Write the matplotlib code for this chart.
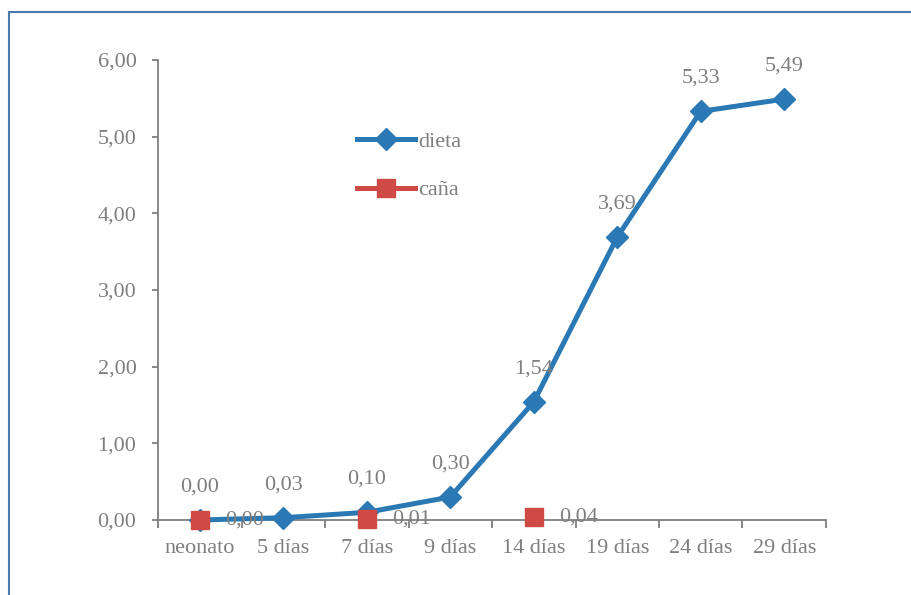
import numpy as np
import matplotlib.pyplot as plt
from matplotlib.patches import Rectangle

categorias = ["neonato", "5 días", "7 días", "9 días", "14 días", "19 días", "24 días", "29 días"]
dieta = [0.00, 0.03, 0.10, 0.30, 1.54, 3.69, 5.33, 5.49]
cana = [0.00, np.nan, 0.01, np.nan, 0.04, np.nan, np.nan, np.nan]

azul = "#2a78b4"
rojo = "#d04a45"
gris = "#7f7f7f"

plt.rcParams['font.family'] = ['Liberation Serif', 'DejaVu Serif']

fig = plt.figure(figsize=(9.12, 5.95), dpi=100)
ax = fig.add_axes([158 / 912, 1 - 520 / 595, (826 - 158) / 912, 460 / 595])

x = np.arange(len(categorias))
ax.plot(x, dieta, color=azul, lw=3.6, marker="D", markersize=11, label="dieta", zorder=3, clip_on=False)
ax.plot(x, cana, color=rojo, lw=3.6, marker="s", markersize=13.5, label="caña", zorder=4, clip_on=False)

# etiquetas de datos
for xi, v in zip(x, dieta):
    ax.annotate(f"{v:.2f}".replace(".", ","), (xi, v), xytext=(0, 17), textcoords="offset points",
                ha="center", va="bottom", fontsize=16, color=gris)
for xi, v in zip(x, cana):
    if not np.isnan(v):
        ax.annotate(f"{v:.2f}".replace(".", ","), (xi, v), xytext=(18, 0), textcoords="offset points",
                    ha="left", va="center", fontsize=16, color=gris, zorder=5)

ax.set_xlim(-0.5, len(categorias) - 0.5)
ax.set_ylim(0, 6)
ax.set_yticks(range(0, 7))
ax.set_yticklabels([f"{v},00" for v in range(0, 7)])
ax.set_xticks(x)
ax.set_xticklabels(categorias)
ax.set_xticks(np.arange(-0.5, len(categorias)), minor=True)
ax.tick_params(axis="x", which="major", length=0, pad=14, labelsize=16, labelcolor=gris)
ax.tick_params(axis="x", which="minor", length=6, width=1.3, color=gris, direction="out")
ax.tick_params(axis="y", length=4.5, width=1.3, color=gris, pad=11, labelsize=16, labelcolor=gris)

for s in ["top", "right"]:
    ax.spines[s].set_visible(False)
for s in ["left", "bottom"]:
    ax.spines[s].set_color(gris)
    ax.spines[s].set_linewidth(1.3)
ax.set_facecolor("none")

leg = ax.legend(loc="upper left", bbox_to_anchor=(0.268, 0.888), frameon=False,
                fontsize=16, labelcolor=gris, handlelength=2.6, handletextpad=0.15, labelspacing=1.25)

# borde del grafico
fig.patches.append(Rectangle((9 / 912, -0.1), 1.2, 1 - 12 / 595 + 0.1, transform=fig.transFigure,
                             fill=False, edgecolor="#4a7ab0", lw=1.5))

plt.savefig("out.png", dpi=100)
